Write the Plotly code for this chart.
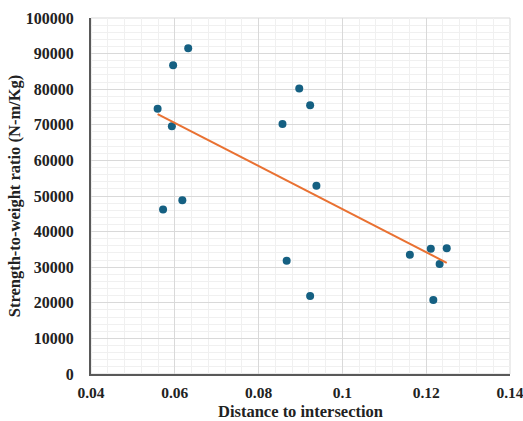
import numpy as np
import plotly.graph_objects as go

distance = [0.0632, 0.0596, 0.0559, 0.0593, 0.0618, 0.0572, 0.0897, 0.0923, 0.0857, 0.0938,
            0.0867, 0.0923, 0.1161, 0.1211, 0.1249, 0.1232, 0.1217]
ratio = [91500, 86700, 74500, 69600, 48800, 46200, 80200, 75500, 70200, 52900,
         31800, 21900, 33500, 35200, 35300, 30900, 20800]

x_ticks = [0.04, 0.06, 0.08, 0.1, 0.12, 0.14]
x_tick_text = ["0.04", "0.06", "0.08", "0.1", "0.12", "0.14"]
y_ticks = list(range(0, 100001, 10000))
y_tick_text = [str(v) for v in y_ticks]

slope, intercept = np.polyfit(distance, ratio, 1)
tx = [min(distance), max(distance)]
ty = [slope * v + intercept for v in tx]

font = "Liberation Serif, Times New Roman, serif"

fig = go.Figure()
fig.add_trace(go.Scatter(x=distance, y=ratio, mode="markers",
                         marker=dict(color="#156082", size=8), showlegend=False))
fig.add_trace(go.Scatter(x=tx, y=ty, mode="lines",
                         line=dict(color="#E97132", width=2), showlegend=False))

fig.update_layout(
    width=523, height=421,
    margin=dict(l=91, r=13, t=18, b=47),
    paper_bgcolor="white", plot_bgcolor="white",
    font=dict(family=font, color="#222222"),
    xaxis=dict(range=[0.04, 0.1400001], tickmode="array", tickvals=x_ticks, ticktext=x_tick_text,
               tickfont=dict(size=15.5, family=font, weight="bold"),
               ticklabelstandoff=3, automargin=False, ticklabeloverflow="allow",
               showgrid=True, gridcolor="#d9d9d9", gridwidth=1,
               minor=dict(dtick=0.004, showgrid=True, gridcolor="#f0f0f0", gridwidth=1),
               showline=True, linecolor="#595959", linewidth=2, mirror=False,
               zeroline=False, ticks="",
               title=dict(text="<b>Distance to intersection</b>", font=dict(size=16.5, family=font),
                          standoff=6)),
    yaxis=dict(range=[0, 100000.01], tickmode="array", tickvals=y_ticks, ticktext=y_tick_text,
               tickfont=dict(size=16, family=font, weight="bold"),
               ticklabelstandoff=12, automargin=False,
               showgrid=True, gridcolor="#d9d9d9", gridwidth=1,
               minor=dict(dtick=2000, showgrid=True, gridcolor="#f0f0f0", gridwidth=1),
               showline=True, linecolor="#595959", linewidth=2,
               zeroline=False, ticks="",
               title=dict(text="<b>Strength-to-weight ratio (N-m/Kg)</b>", font=dict(size=16.5, family=font),
                          standoff=1)),
    shapes=[dict(type="rect", xref="paper", yref="paper", x0=0, x1=1, y0=0, y1=1,
                 line=dict(color="#d9d9d9", width=1), layer="below")],
)

fig.write_html("out.html", config={"displayModeBar": False},
               post_script="document.body.style.margin='0';document.body.style.overflow='hidden';")
